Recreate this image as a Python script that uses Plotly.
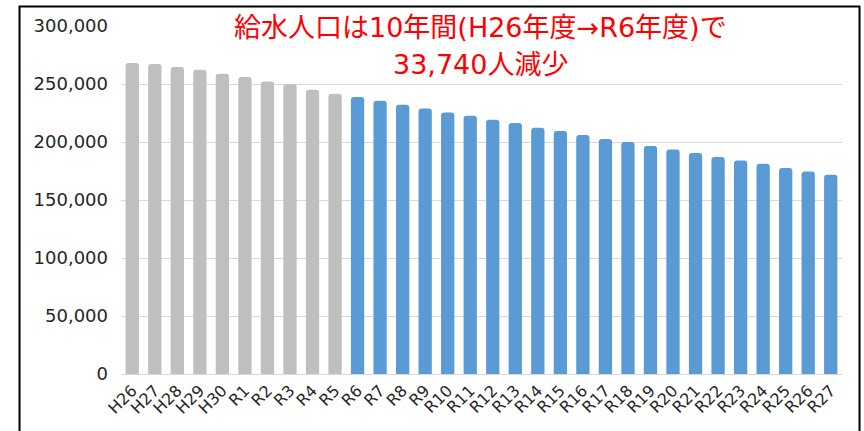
import plotly.graph_objects as go

# Fiscal-year labels (Heisei / Reiwa)
years = ["H26", "H27", "H28", "H29", "H30", "R1", "R2", "R3", "R4", "R5",
         "R6", "R7", "R8", "R9", "R10", "R11", "R12", "R13", "R14", "R15",
         "R16", "R17", "R18", "R19", "R20", "R21", "R22", "R23", "R24", "R25",
         "R26", "R27"]

# Served population: recorded years (grey) and projection (blue)
actual_years = years[:10]
actual_pop = [268100, 267200, 264600, 262300, 258900, 256000, 252200, 249700,
              245100, 241600]
proj_years = years[10:]
proj_pop = [238700, 235600, 232100, 228900, 225500, 222700, 219200, 216400,
            212300, 209500, 206000, 202600, 200000, 196500, 193600, 190500,
            187100, 184100, 181300, 177600, 174600, 171800]

y_ticks = [0, 50000, 100000, 150000, 200000, 250000, 300000]

title_lines = ["給水人口は10年間(H26年度→R6年度)で", "33,740人減少"]

tick_font = dict(family="DejaVu Sans, Noto Sans CJK JP, sans-serif", size=18,
                 color="#262626")

fig = go.Figure()
fig.add_trace(go.Bar(x=actual_years, y=actual_pop,
                     marker=dict(color="#bfbfbf", cornerradius=3,
                                 line=dict(width=0))))
fig.add_trace(go.Bar(x=proj_years, y=proj_pop,
                     marker=dict(color="#5b9bd5", cornerradius=3,
                                 line=dict(width=0))))

W, H = 864, 431
ml, mr, mt, mb = 121, 22, 26, 57
pw, ph = W - ml - mr, H - mt - mb


def px_to_paper_x(px):
    return (px - ml) / pw


def px_to_paper_y(py):
    return (H - mb - py) / ph


title_annotations = [
    dict(text=line, x=px_to_paper_x(480), y=px_to_paper_y(yc),
         xref="paper", yref="paper", xanchor="center", yanchor="middle",
         showarrow=False, borderpad=0,
         font=dict(family="DejaVu Sans, Noto Sans CJK JP, sans-serif",
                   size=27, color="#ff0000"))
    for line, yc in zip(title_lines, [27, 65])
]

fig.update_layout(
    width=W, height=H,
    margin=dict(l=ml, r=mr, t=mt, b=mb),
    paper_bgcolor="white", plot_bgcolor="white",
    showlegend=False,
    bargap=0.41,
    barmode="group",
    xaxis=dict(categoryorder="array", categoryarray=years,
               tickangle=-45, tickfont=dict(tick_font, size=16),
               showgrid=False, showline=True, linecolor="#d9d9d9",
               linewidth=1, ticks="", zeroline=False),
    yaxis=dict(range=[0, 300000], tickvals=y_ticks,
               ticktext=[f"{v:,}" for v in y_ticks],
               tickfont=tick_font, showgrid=True, gridcolor="#d9d9d9",
               gridwidth=1, zeroline=False, showline=False, ticks="",
               ticklabelstandoff=12),
    annotations=title_annotations,
    shapes=[dict(
        type="rect", xref="paper", yref="paper",
        x0=px_to_paper_x(19.5), x1=px_to_paper_x(859.5),
        y0=px_to_paper_y(445), y1=px_to_paper_y(6.5),
        line=dict(color="black", width=2), fillcolor="rgba(0,0,0,0)",
        layer="above",
    )],
)

fig.write_html("out.html")
